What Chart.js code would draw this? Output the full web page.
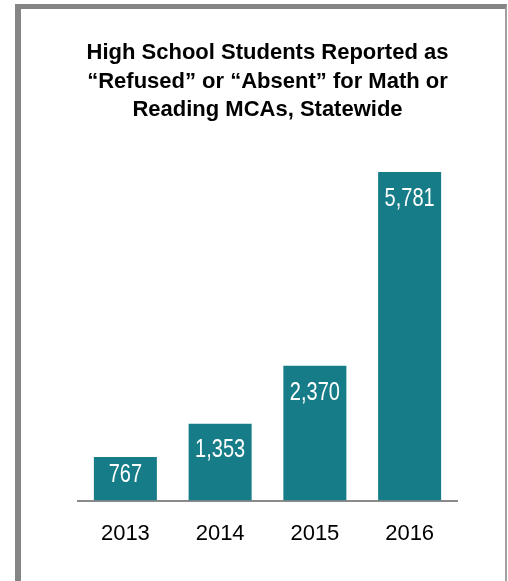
<!DOCTYPE html>
<html>
<head>
<meta charset="utf-8">
<script src="https://cdn.jsdelivr.net/npm/chart.js@4.4.1/dist/chart.umd.min.js"></script>
<style>
  body { margin: 0; background: #fff; }
  #wrap { position: relative; width: 508px; height: 581px; overflow: hidden; }
  #frame {
    position: absolute; left: 15px; top: 4px; width: 484px; height: 600px;
    border-left: 6px solid #858585; border-top: 5px solid #858585; border-right: 2px solid #a0a0a0;
    pointer-events: none;
  }
  canvas { position: absolute; left: 0; top: 0; }
</style>
</head>
<body>
<div id="wrap">
  <canvas id="refusedChart" width="508" height="581"></canvas>
  <div id="frame"></div>
</div>
<script>
const years = ['2013', '2014', '2015', '2016'];
const students = [767, 1353, 2370, 5781];
const titleLines = ['High School Students Reported as', '\u201CRefused\u201D or \u201CAbsent\u201D for Math or', 'Reading MCAs, Statewide'];

// draws the white value labels inside the top of each bar (condensed, no narrow font installed)
const barLabels = {
    id: 'barLabels',
    afterDatasetsDraw(chart) {
        const c = chart.ctx;
        const meta = chart.getDatasetMeta(0);
        const squeeze = 0.77;
        c.save();
        c.fillStyle = '#ffffff';
        c.font = '26px "Liberation Sans", Arial, sans-serif';
        c.textAlign = 'center';
        c.textBaseline = 'middle';
        meta.data.forEach((bar, i) => {
            const h = bar.base - bar.y;
            const y = bar.y + Math.min(26.5, h * 0.41);
            c.save();
            c.translate(bar.x, y);
            c.scale(squeeze, 1);
            c.fillText(students[i].toLocaleString('en-US'), 0, 0);
            c.restore();
        });
        c.restore();
    }
};

const ctx = document.getElementById('refusedChart').getContext('2d');
const refusedChart = new Chart(ctx, {
    type: 'bar',
    data: {
        labels: years,
        datasets: [{
            data: students,
            backgroundColor: '#167c88',
            borderWidth: 0,
            categoryPercentage: 1,
            barPercentage: 0.665
        }]
    },
    options: {
        responsive: false,
        animation: false,
        layout: {
            padding: { left: 78, right: 51, top: 0, bottom: 14 }
        },
        plugins: {
            legend: { display: false },
            tooltip: { enabled: false },
            title: {
                display: true,
                text: titleLines,
                color: '#000',
                font: { family: '"Liberation Sans", Arial, sans-serif', size: 22, weight: 'bold', lineHeight: 1.295 },
                padding: { top: 39, bottom: 35 }
            }
        },
        scales: {
            x: {
                grid: { display: false, drawTicks: false },
                border: { display: true, color: '#8a8a8a', width: 2 },
                ticks: {
                    color: '#000',
                    padding: 20,
                    font: { family: '"Liberation Sans", Arial, sans-serif', size: 22 }
                }
            },
            y: {
                display: false,
                min: 0,
                max: 6000
            }
        }
    },
    plugins: [barLabels]
});
</script>
</body>
</html>
